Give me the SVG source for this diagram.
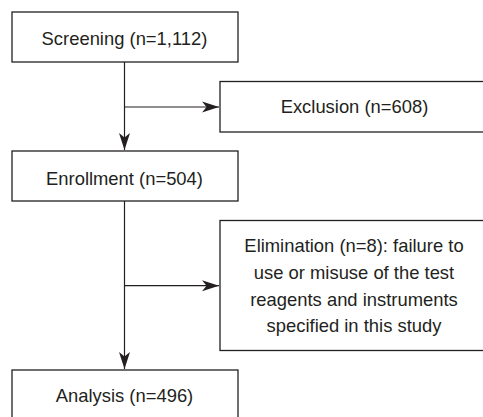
<svg xmlns="http://www.w3.org/2000/svg" width="483" height="417" viewBox="0 0 483 417">
<defs>
<style>
.box{fill:#fff;stroke:#231f20;stroke-width:1.3}
.ln{stroke:#231f20;stroke-width:1.2;fill:none}
.t{font-family:"Liberation Sans",Arial,sans-serif;font-size:18.4px;fill:#231f20;text-anchor:middle}
</style>
<marker id="ah" markerUnits="userSpaceOnUse" markerWidth="18" markerHeight="14" viewBox="0 0 18 14" refX="17" refY="7" orient="auto">
<path d="M0,1.5 L17,7 L0,12.5 L4.5,7 Z" fill="#231f20"/>
</marker>
</defs>
<rect width="483" height="417" fill="#fff"/>
<g id="connectors">
<line class="ln" x1="124.5" y1="62" x2="124.5" y2="150" marker-end="url(#ah)"/>
<line class="ln" x1="124.5" y1="107" x2="219" y2="107" marker-end="url(#ah)"/>
<line class="ln" x1="124.5" y1="201" x2="124.5" y2="369" marker-end="url(#ah)"/>
<line class="ln" x1="124.5" y1="285.7" x2="219" y2="285.7" marker-end="url(#ah)"/>
</g>
<g id="screening">
<rect class="box" x="12" y="12" width="226" height="50"/>
<text class="t" x="124.5" y="44.5">Screening (n=1,112)</text>
</g>
<g id="exclusion">
<rect class="box" x="220" y="81.5" width="280" height="50.5"/>
<text class="t" x="354.5" y="113">Exclusion (n=608)</text>
</g>
<g id="enrollment">
<rect class="box" x="12" y="151" width="226" height="50"/>
<text class="t" x="124.5" y="185">Enrollment (n=504)</text>
</g>
<g id="elimination">
<rect class="box" x="220" y="220.5" width="280" height="130"/>
<text class="t" x="354" y="252.3">Elimination (n=8): failure to</text>
<text class="t" x="354" y="279">use or misuse of the test</text>
<text class="t" x="354" y="305.7">reagents and instruments</text>
<text class="t" x="354" y="332.3">specified in this study</text>
</g>
<g id="analysis">
<rect class="box" x="12" y="370" width="226" height="60"/>
<text class="t" x="124.5" y="401.7">Analysis (n=496)</text>
</g>
</svg>
